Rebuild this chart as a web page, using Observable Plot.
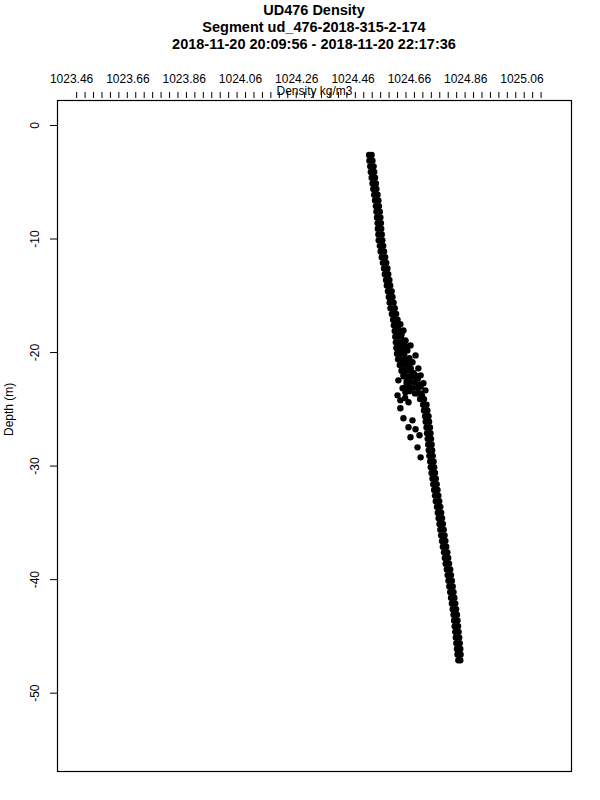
<!DOCTYPE html>
<html>
<head>
<meta charset="utf-8">
<script src="https://cdn.jsdelivr.net/npm/d3@7"></script>
<script src="https://cdn.jsdelivr.net/npm/@observablehq/plot@0.6"></script>
<style>
  html, body { margin: 0; padding: 0; background: #fff; }
  #titles { width: 600px; height: 56px; box-sizing: border-box; padding-top: 2px; padding-left: 28px;
    text-align: center; font-family: "Liberation Sans", Arial, sans-serif; font-weight: bold; font-size: 14.5px; line-height: 17px; color: #000; }
  #chart svg { display: block; }
</style>
</head>
<body>
<div id="titles">
  <div>UD476 Density</div>
  <div>Segment ud_476-2018-315-2-174</div>
  <div>2018-11-20 20:09:56 - 2018-11-20 22:17:36</div>
</div>
<div id="chart"></div>
<script>
// Band of the profile: depth levels with left and right edge densities
const bandDepth = [-2.6,-3.1,-3.6,-4.1,-4.6,-5.1,-5.6,-6.1,-6.6,-7.1,-7.6,-8.1,-8.6,-9.1,-9.6,-10.1,-10.6,-11.1,-11.6,-12.1,-12.6,-13.1,-13.6,-14.1,-14.6,-15.1,-15.6,-16.1,-16.6,-17.1,-17.6,-18.1,-18.6,-19.1,-19.6,-20.1,-20.6,-21.1,-21.6,-22.1,-22.6,-23.1,-23.6,-24.1,-24.6,-25.1,-25.6,-26.1,-26.6,-27.1,-27.6,-28.1,-28.6,-29.1,-29.6,-30.1,-30.6,-31.1,-31.6,-32.1,-32.6,-33.1,-33.6,-34.1,-34.6,-35.1,-35.6,-36.1,-36.6,-37.1,-37.6,-38.1,-38.6,-39.1,-39.6,-40.1,-40.6,-41.1,-41.6,-42.1,-42.6,-43.1,-43.6,-44.1,-44.6,-45.1,-45.6,-46.1,-46.6,-47.1];
const bandLeft = [1024.517,1024.518,1024.521,1024.523,1024.526,1024.529,1024.532,1024.535,1024.538,1024.541,1024.543,1024.545,1024.547,1024.548,1024.550,1024.551,1024.555,1024.558,1024.562,1024.566,1024.570,1024.573,1024.577,1024.580,1024.584,1024.587,1024.590,1024.593,1024.598,1024.602,1024.605,1024.608,1024.610,1024.612,1024.614,1024.616,1024.620,1024.626,1024.632,1024.640,1024.650,1024.658,1024.680,1024.698,1024.709,1024.712,1024.716,1024.718,1024.721,1024.723,1024.725,1024.727,1024.729,1024.731,1024.734,1024.736,1024.739,1024.742,1024.745,1024.748,1024.751,1024.754,1024.758,1024.761,1024.764,1024.767,1024.770,1024.773,1024.776,1024.779,1024.783,1024.786,1024.789,1024.793,1024.796,1024.799,1024.802,1024.805,1024.808,1024.811,1024.814,1024.817,1024.819,1024.821,1024.823,1024.825,1024.827,1024.829,1024.831,1024.834];
const bandRight = [1024.526,1024.529,1024.533,1024.535,1024.538,1024.541,1024.543,1024.547,1024.550,1024.552,1024.555,1024.557,1024.559,1024.560,1024.562,1024.564,1024.567,1024.570,1024.574,1024.578,1024.582,1024.585,1024.589,1024.592,1024.597,1024.600,1024.604,1024.608,1024.613,1024.618,1024.622,1024.626,1024.630,1024.634,1024.638,1024.642,1024.648,1024.655,1024.662,1024.670,1024.680,1024.690,1024.700,1024.712,1024.721,1024.724,1024.728,1024.730,1024.733,1024.735,1024.737,1024.739,1024.741,1024.743,1024.746,1024.748,1024.751,1024.754,1024.757,1024.760,1024.763,1024.766,1024.770,1024.773,1024.776,1024.779,1024.782,1024.785,1024.788,1024.791,1024.795,1024.798,1024.801,1024.805,1024.808,1024.811,1024.814,1024.817,1024.820,1024.823,1024.826,1024.829,1024.831,1024.833,1024.835,1024.837,1024.839,1024.841,1024.842,1024.841];
// Scattered readings around the 17-29 m step
const scatterDepth = [-16.6,-17.1,-17.5,-17.6,-18.05,-18.1,-18.4,-18.6,-18.93,-19.0,-19.1,-19.37,-19.5,-19.6,-19.81,-20.1,-20.25,-20.5,-20.6,-20.86,-20.9,-21.0,-21.1,-21.39,-21.4,-21.6,-21.8,-22.0,-22.01,-22.01,-22.1,-22.3,-22.45,-22.6,-22.71,-22.8,-22.9,-23.0,-23.1,-23.15,-23.33,-23.4,-23.5,-23.6,-23.77,-23.8,-24.0,-24.21,-24.38,-24.91,-25.79,-25.97,-26.58,-26.76,-27.29,-27.46,-28.35,-29.23];
const scatterDens = [1024.606,1024.610,1024.628,1024.614,1024.639,1024.617,1024.632,1024.620,1024.646,1024.645,1024.622,1024.664,1024.648,1024.625,1024.653,1024.628,1024.682,1024.660,1024.634,1024.671,1024.652,1024.660,1024.640,1024.692,1024.665,1024.646,1024.675,1024.680,1024.700,1024.639,1024.654,1024.690,1024.621,1024.663,1024.710,1024.695,1024.650,1024.700,1024.672,1024.636,1024.717,1024.660,1024.646,1024.690,1024.618,1024.705,1024.645,1024.628,1024.657,1024.628,1024.639,1024.671,1024.657,1024.682,1024.696,1024.664,1024.689,1024.700];

const xLabelTicks = [1023.46,1023.66,1023.86,1024.06,1024.26,1024.46,1024.66,1024.86,1025.06];
const yTicks = [0,-10,-20,-30,-40,-50];
const xMinorTicks = d3.range(56).map(i => 1023.478 + i * 0.03);

const points = [];
bandDepth.forEach((d, i) => {
  points.push({depth: d, dens: bandLeft[i]});
  points.push({depth: d, dens: bandRight[i]});
});
scatterDepth.forEach((d, i) => points.push({depth: d, dens: scatterDens[i]}));

const font = "Liberation Sans, Arial, sans-serif";
const chart = Plot.plot({
  width: 600,
  height: 744,
  marginTop: 44,
  marginBottom: 29,
  marginLeft: 57,
  marginRight: 29,
  style: {fontFamily: font, color: "#000", background: "#fff"},
  x: {domain: [1023.41, 1025.236], axis: null},
  y: {domain: [-56.9, 2.2], axis: null},
  marks: [
    Plot.dot(points, {x: "dens", y: "depth", r: 3.2, fill: "#000", stroke: "none"}),
    Plot.frame({stroke: "#000", strokeWidth: 1.2}),
    Plot.axisX(xMinorTicks, {anchor: "top", tickSize: 6, dy: -3, tickFormat: () => "", label: null, stroke: "#000"}),
    Plot.axisX(xLabelTicks, {anchor: "top", tickSize: 0, tickPadding: 18, tickFormat: d => d.toFixed(2), fontSize: 12, label: null, fill: "#000"}),
    Plot.text(["Density kg/m3"], {frameAnchor: "top", dy: -9, fontSize: 12, fill: "#000", lineAnchor: "middle"}),
    Plot.axisY(yTicks, {anchor: "left", tickSize: 7, tickFormat: () => "", label: null, stroke: "#000"}),
    Plot.text(yTicks, {y: d => d, frameAnchor: "left", dx: -22, rotate: -90, text: d => String(d), fontSize: 12, fill: "#000", lineAnchor: "middle", textAnchor: "middle"}),
    Plot.text(["Depth (m)"], {frameAnchor: "left", dx: -48.5, rotate: -90, fontSize: 12, fill: "#000", lineAnchor: "middle"})
  ]
});
document.getElementById("chart").appendChild(chart);
</script>
</body>
</html>
